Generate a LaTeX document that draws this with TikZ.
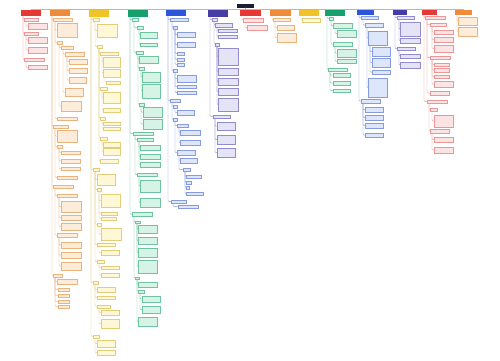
\documentclass[tikz,border=0pt]{standalone}
\usepackage{tikz}
\usetikzlibrary{calc}
\definecolor{red1}{RGB}{229, 57, 53}
\definecolor{red2}{RGB}{253, 228, 228}
\definecolor{red3}{RGB}{238, 150, 150}
\definecolor{orange1}{RGB}{239, 140, 60}
\definecolor{orange2}{RGB}{254, 236, 218}
\definecolor{orange3}{RGB}{236, 180, 125}
\definecolor{yellow1}{RGB}{240, 196, 40}
\definecolor{yellow2}{RGB}{255, 248, 214}
\definecolor{yellow3}{RGB}{228, 205, 120}
\definecolor{green1}{RGB}{22, 160, 110}
\definecolor{green2}{RGB}{214, 244, 230}
\definecolor{green3}{RGB}{110, 195, 160}
\definecolor{blue1}{RGB}{45, 85, 220}
\definecolor{blue2}{RGB}{222, 230, 252}
\definecolor{blue3}{RGB}{135, 155, 225}
\definecolor{violet1}{RGB}{70, 60, 165}
\definecolor{violet2}{RGB}{228, 228, 246}
\definecolor{violet3}{RGB}{145, 140, 205}
\definecolor{navy1}{RGB}{25, 30, 55}
\definecolor{tan1}{RGB}{205, 180, 140}

\begin{document}
\begin{tikzpicture}[x=1pt, y=-1pt, line width=.45pt,
  box/.style={rectangle, anchor=north west, inner sep=0pt, line width=.25pt},
  sz/.style 2 args={minimum width=#1, minimum height=#2},
  rhead/.style={box, fill=red1}, ohead/.style={box, fill=orange1},
  yhead/.style={box, fill=yellow1}, ghead/.style={box, fill=green1},
  bhead/.style={box, fill=blue1}, vhead/.style={box, fill=violet1},
  rbox/.style={box, fill=red2, draw=red3}, obox/.style={box, fill=orange2, draw=orange3},
  ybox/.style={box, fill=yellow2, draw=yellow3}, gbox/.style={box, fill=green2, draw=green3},
  bbox/.style={box, fill=blue2, draw=blue3}, vbox/.style={box, fill=violet2, draw=violet3},
  rline/.style={draw=red3, rounded corners=1pt}, oline/.style={draw=orange3, rounded corners=1pt},
  yline/.style={draw=yellow3, rounded corners=1pt}, gline/.style={draw=green3, rounded corners=1pt},
  bline/.style={draw=blue3, rounded corners=1pt}, vline/.style={draw=violet3, rounded corners=1pt}]
  \fill[white] (0,0) rectangle (500,360);
  \useasboundingbox (0,0) rectangle (500,360);

  \node[box, fill=navy1, sz={17}{4}] (root) at (237,3.5) {};

  % headers
  \node[rhead, sz={20}{6}] (h1) at (21,10) {};
  \node[ohead, sz={20}{6}] (h2) at (50,10) {};
  \node[yhead, sz={20}{7}] (h3) at (89,10) {};
  \node[ghead, sz={20}{7}] (h4) at (128,10) {};
  \node[bhead, sz={20}{6}] (h5) at (166,10) {};
  \node[vhead, sz={20}{7}] (h6) at (208,10) {};
  \node[rhead, sz={21}{6}] (h7) at (240,10) {};
  \node[ohead, sz={21}{6}] (h8) at (270,10) {};
  \node[yhead, sz={20}{6}] (h9) at (299,10) {};
  \node[ghead, sz={20}{6}] (h10) at (325,10) {};
  \node[bhead, sz={17}{5}] (h11) at (357,10) {};
  \node[vhead, sz={14}{5}] (h12) at (393,10) {};
  \node[rhead, sz={15}{5}] (h13) at (422,10) {};
  \node[ohead, sz={17}{5}] (h14) at (455,10) {};

  \foreach \h in {h1,h2,h3,h4,h5,h6,h7,h8,h9,h10,h11,h12,h13,h14}
    \draw[tan1] (root.south) -- ++(0,1.5) -| (\h.north);

  % column 1
  \node[rbox, sz={14}{3}] (n1a) at (24,18) {};
  \node[rbox, sz={19}{6}] (n1a1) at (28,23) {};
  \node[rbox, sz={14}{3}] (n1b) at (24,32) {};
  \node[rbox, sz={19}{6}] (n1b1) at (28,37) {};
  \node[rbox, sz={19}{6}] (n1b2) at (28,47) {};
  \node[rbox, sz={20}{3}] (n1c) at (24,58) {};
  \node[rbox, sz={19}{4}] (n1c1) at (28,65) {};

  % column 2
  \node[obox, sz={19}{3}] (n2a) at (53,18) {};
  \node[obox, sz={20}{14}] (n2a1) at (57,23) {};
  \node[obox, sz={5}{2.5}] (n2a2) at (57,41) {};
  \node[obox, sz={12}{2.5}] (n2b) at (61,46) {};
  \node[obox, sz={19}{4}] (n2b1) at (65,52) {};
  \node[obox, sz={18}{5}] (n2b1a) at (69,59) {};
  \node[obox, sz={18}{5}] (n2b1b) at (69,68) {};
  \node[obox, sz={17}{6}] (n2b1c) at (69,77) {};
  \node[obox, sz={18}{8}] (n2b2) at (65,88) {};
  \node[obox, sz={20}{10}] (n2c) at (61,101) {};
  \node[obox, sz={20}{3}] (n2a3) at (57,117) {};
  \node[obox, sz={15}{2.5}] (n2d) at (53,125) {};
  \node[obox, sz={20}{12}] (n2d1) at (57,130) {};
  \node[obox, sz={5}{2.5}] (n2d2) at (57,145) {};
  \node[obox, sz={19}{2.5}] (n2d2a) at (61,151) {};
  \node[obox, sz={19}{4}] (n2d2b) at (61,159) {};
  \node[obox, sz={19}{3}] (n2d2c) at (61,167) {};
  \node[obox, sz={20}{3}] (n2d3) at (57,176) {};
  \node[obox, sz={20}{3}] (n2e) at (53,185) {};
  \node[obox, sz={20}{3}] (n2e1) at (57,194) {};
  \node[obox, sz={20}{11}] (n2e1a) at (61,201) {};
  \node[obox, sz={20}{5}] (n2e1b) at (61,215) {};
  \node[obox, sz={20}{7}] (n2e1c) at (61,223) {};
  \node[obox, sz={20}{4}] (n2e2) at (57,233) {};
  \node[obox, sz={20}{6}] (n2e2a) at (61,242) {};
  \node[obox, sz={20}{6}] (n2e2b) at (61,252) {};
  \node[obox, sz={20}{8}] (n2e2c) at (61,262) {};
  \node[obox, sz={9}{3}] (n2f) at (53,274) {};
  \node[obox, sz={20}{5}] (n2f1) at (57,279) {};
  \node[obox, sz={11}{3}] (n2f2) at (58,288) {};
  \node[obox, sz={11}{3}] (n2f3) at (58,294) {};
  \node[obox, sz={11}{2.5}] (n2f4) at (58,300) {};
  \node[obox, sz={11}{2.5}] (n2f5) at (58,305) {};

  % column 3
  \node[ybox, sz={6}{3}] (n3a) at (93,18) {};
  \node[ybox, sz={20}{13}] (n3a1) at (97,24) {};
  \node[ybox, sz={5}{2.5}] (n3a2) at (97,45) {};
  \node[ybox, sz={18}{2.5}] (n3b) at (100,52) {};
  \node[ybox, sz={17}{10}] (n3b1) at (103,57) {};
  \node[ybox, sz={17}{8}] (n3b2) at (103,69) {};
  \node[ybox, sz={14}{2.5}] (n3b3) at (106,81) {};
  \node[ybox, sz={7}{2.5}] (n3c) at (100,87) {};
  \node[ybox, sz={17}{11}] (n3c1) at (103,92) {};
  \node[ybox, sz={17}{4}] (n3c2) at (103,108) {};
  \node[ybox, sz={5}{2.5}] (n3d) at (100,117) {};
  \node[ybox, sz={17}{3}] (n3d1) at (103,122) {};
  \node[ybox, sz={17}{3}] (n3d2) at (103,127) {};
  \node[ybox, sz={7}{2.5}] (n3e) at (100,137) {};
  \node[ybox, sz={17}{5}] (n3e1) at (103,142) {};
  \node[ybox, sz={17}{7}] (n3e2) at (103,148) {};
  \node[ybox, sz={18}{4}] (n3f) at (100,159) {};
  \node[ybox, sz={6}{3}] (n3g) at (93,168) {};
  \node[ybox, sz={18}{11}] (n3g1) at (97,174) {};
  \node[ybox, sz={4}{2.5}] (n3g2) at (97,188) {};
  \node[ybox, sz={19}{13}] (n3g2a) at (101,194) {};
  \node[ybox, sz={16}{2.5}] (n3g2b) at (101,212) {};
  \node[ybox, sz={15}{2.5}] (n3g2c) at (101,217) {};
  \node[ybox, sz={4}{2.5}] (n3g3) at (97,223) {};
  \node[ybox, sz={20}{12}] (n3g3a) at (101,228) {};
  \node[ybox, sz={18}{3}] (n3g4) at (97,243) {};
  \node[ybox, sz={18}{5}] (n3g4a) at (101,250) {};
  \node[ybox, sz={7}{3}] (n3g5) at (97,260) {};
  \node[ybox, sz={18}{3}] (n3g5a) at (101,266) {};
  \node[ybox, sz={18}{4}] (n3g5b) at (101,273) {};
  \node[ybox, sz={5}{2.5}] (n3h) at (93,281) {};
  \node[ybox, sz={18}{5}] (n3h1) at (97,287) {};
  \node[ybox, sz={18}{3}] (n3h2) at (97,296) {};
  \node[ybox, sz={13}{2.5}] (n3h3) at (97,305) {};
  \node[ybox, sz={18}{5}] (n3h3a) at (101,310) {};
  \node[ybox, sz={18}{9}] (n3h3b) at (101,319) {};
  \node[ybox, sz={6}{2.5}] (n3i) at (93,335) {};
  \node[ybox, sz={18}{7}] (n3i1) at (97,340) {};
  \node[ybox, sz={18}{5}] (n3i2) at (97,350) {};

  % column 4
  \node[gbox, sz={6}{3}] (n4a) at (132,18) {};
  \node[gbox, sz={6}{2.5}] (n4a1) at (137,26) {};
  \node[gbox, sz={17}{6}] (n4a1a) at (140,32) {};
  \node[gbox, sz={17}{3}] (n4a1b) at (140,43) {};
  \node[gbox, sz={7}{2.5}] (n4a2) at (136,51) {};
  \node[gbox, sz={19}{7}] (n4a2a) at (139,56) {};
  \node[gbox, sz={5}{2.5}] (n4a2b) at (139,67) {};
  \node[gbox, sz={18}{10}] (n4a2b1) at (142,72) {};
  \node[gbox, sz={18}{14}] (n4a2b2) at (142,84) {};
  \node[gbox, sz={5}{2.5}] (n4a2c) at (139,103) {};
  \node[gbox, sz={19}{10}] (n4a2c1) at (143,107) {};
  \node[gbox, sz={19}{10}] (n4a2c2) at (143,119) {};
  \node[gbox, sz={20}{3}] (n4b) at (133,132) {};
  \node[gbox, sz={16}{3}] (n4b1) at (137,138) {};
  \node[gbox, sz={20}{5}] (n4b1a) at (140,145) {};
  \node[gbox, sz={20}{5}] (n4b1b) at (140,154) {};
  \node[gbox, sz={20}{5}] (n4b1c) at (140,162) {};
  \node[gbox, sz={20}{3}] (n4b2) at (137,173) {};
  \node[gbox, sz={20}{12}] (n4b2a) at (140,180) {};
  \node[gbox, sz={20}{9}] (n4b2b) at (140,198) {};
  \node[gbox, sz={20}{4}] (n4c) at (132,212) {};
  \node[gbox, sz={5}{2}] (n4c1) at (135,221) {};
  \node[gbox, sz={19}{8}] (n4c1a) at (138,225) {};
  \node[gbox, sz={19}{7}] (n4c1b) at (138,237) {};
  \node[gbox, sz={19}{9}] (n4c1c) at (138,248) {};
  \node[gbox, sz={19}{13}] (n4c1d) at (138,260) {};
  \node[gbox, sz={4}{2}] (n4c2) at (135,277) {};
  \node[gbox, sz={19}{5}] (n4c2a) at (138,282) {};
  \node[gbox, sz={6}{2.5}] (n4c2b) at (138,290) {};
  \node[gbox, sz={18}{6}] (n4c2b1) at (142,296) {};
  \node[gbox, sz={18}{7}] (n4c2b2) at (142,306) {};
  \node[gbox, sz={19}{9}] (n4c2c) at (138,317) {};

  % column 5
  \node[bbox, sz={18}{3}] (n5a) at (170,18) {};
  \node[bbox, sz={4}{2.5}] (n5a1) at (173,26) {};
  \node[bbox, sz={18}{5}] (n5a1a) at (177,32) {};
  \node[bbox, sz={18}{5}] (n5a1b) at (177,42) {};
  \node[bbox, sz={7}{2.5}] (n5a1c) at (177,52) {};
  \node[bbox, sz={7}{2.5}] (n5a1d) at (177,58) {};
  \node[bbox, sz={7}{2.5}] (n5a1e) at (177,63) {};
  \node[bbox, sz={4}{3}] (n5a2) at (173,69) {};
  \node[bbox, sz={19}{7}] (n5a2a) at (177,75) {};
  \node[bbox, sz={19}{3}] (n5a2b) at (177,85) {};
  \node[bbox, sz={19}{3}] (n5a2c) at (177,91) {};
  \node[bbox, sz={10}{3}] (n5b) at (170,99) {};
  \node[bbox, sz={4}{2.5}] (n5b1) at (173,105) {};
  \node[bbox, sz={17}{5}] (n5b1a) at (177,110) {};
  \node[bbox, sz={4}{3}] (n5b2) at (173,118) {};
  \node[bbox, sz={11}{3}] (n5b2a) at (177,124) {};
  \node[bbox, sz={20}{5}] (n5b2a1) at (180,130) {};
  \node[bbox, sz={20}{5}] (n5b2a2) at (180,140) {};
  \node[bbox, sz={18}{5}] (n5b2b) at (177,150) {};
  \node[bbox, sz={17}{5}] (n5b2b1) at (180,158) {};
  \node[bbox, sz={7}{3}] (n5b2b2) at (183,168) {};
  \node[bbox, sz={15}{2.5}] (n5c1) at (186,175) {};
  \node[bbox, sz={5}{2.5}] (n5c2) at (186,181) {};
  \node[bbox, sz={3}{2.5}] (n5c3) at (186,186) {};
  \node[bbox, sz={17}{3}] (n5c4) at (186,192) {};
  \node[bbox, sz={15}{3}] (n5d) at (171,200) {};
  \node[bbox, sz={20}{3}] (n5d1) at (178,205) {};

  % column 6
  \node[vbox, sz={5}{3}] (n6a) at (212,18) {};
  \node[vbox, sz={17}{4}] (n6a1) at (215,23) {};
  \node[vbox, sz={19}{3}] (n6a1a) at (218,29) {};
  \node[vbox, sz={19}{3}] (n6a1b) at (218,35) {};
  \node[vbox, sz={4}{2.5}] (n6a2) at (215,43) {};
  \node[vbox, sz={20}{17}] (n6a2a) at (218,48) {};
  \node[vbox, sz={20}{7}] (n6a2b) at (218,68) {};
  \node[vbox, sz={20}{7}] (n6a2c) at (218,78) {};
  \node[vbox, sz={20}{7}] (n6a2d) at (218,88) {};
  \node[vbox, sz={20}{13}] (n6a2e) at (218,98) {};
  \node[vbox, sz={17}{2.5}] (n6b) at (213,115) {};
  \node[vbox, sz={18}{8}] (n6b1) at (217,122) {};
  \node[vbox, sz={18}{9}] (n6b2) at (217,135) {};
  \node[vbox, sz={18}{9}] (n6b3) at (217,148) {};

  % columns 7 to 9
  \node[rbox, sz={20}{4}] (n7a) at (243,18) {};
  \node[rbox, sz={20}{5}] (n7a1) at (247,25) {};
  \node[obox, sz={17}{3}] (n8a) at (273,18) {};
  \node[obox, sz={17}{5}] (n8a1) at (277,25) {};
  \node[obox, sz={19}{9}] (n8a2) at (277,33) {};
  \node[ybox, sz={18}{4}] (n9a) at (302,18) {};

  % column 10
  \node[gbox, sz={4}{2.5}] (n10a) at (329,17) {};
  \node[gbox, sz={19}{5}] (n10b) at (333,23) {};
  \node[gbox, sz={19}{7}] (n10b1) at (337,30) {};
  \node[gbox, sz={19}{4}] (n10c) at (333,42) {};
  \node[gbox, sz={19}{8}] (n10c1) at (337,49) {};
  \node[gbox, sz={19}{4}] (n10c2) at (337,59) {};
  \node[gbox, sz={19}{3}] (n10d) at (328,68) {};
  \node[gbox, sz={17}{4}] (n10d1) at (333,73) {};
  \node[gbox, sz={17}{4}] (n10d2) at (333,81) {};
  \node[gbox, sz={17}{3}] (n10d3) at (333,89) {};

  % column 11
  \node[bbox, sz={17}{3}] (n11a) at (361,16) {};
  \node[bbox, sz={18}{4}] (n11b) at (365,23) {};
  \node[bbox, sz={19}{14}] (n11c) at (368,31) {};
  \node[bbox, sz={18}{9}] (n11c1) at (372,47) {};
  \node[bbox, sz={18}{9}] (n11c2) at (372,58) {};
  \node[bbox, sz={18}{4}] (n11c3) at (372,70) {};
  \node[bbox, sz={19}{19}] (n11d) at (368,78) {};
  \node[bbox, sz={19}{4}] (n11e) at (361,99) {};
  \node[bbox, sz={18}{5}] (n11e1) at (365,107) {};
  \node[bbox, sz={18}{5}] (n11e2) at (365,115) {};
  \node[bbox, sz={18}{5}] (n11e3) at (365,123) {};
  \node[bbox, sz={18}{4}] (n11e4) at (365,133) {};

  % column 12
  \node[vbox, sz={17}{3}] (n12a) at (397,16) {};
  \node[vbox, sz={20}{14}] (n12a1) at (400,22) {};
  \node[vbox, sz={20}{5}] (n12a2) at (400,38) {};
  \node[vbox, sz={18}{3}] (n12b) at (397,47) {};
  \node[vbox, sz={20}{4}] (n12b1) at (400,54) {};
  \node[vbox, sz={20}{6}] (n12b2) at (400,62) {};

  % column 13
  \node[rbox, sz={20}{3}] (n13a) at (425,16) {};
  \node[rbox, sz={16}{3}] (n13b) at (430,23) {};
  \node[rbox, sz={19}{4}] (n13b1) at (434,30) {};
  \node[rbox, sz={19}{5}] (n13b2) at (434,37) {};
  \node[rbox, sz={19}{7}] (n13b3) at (434,45) {};
  \node[rbox, sz={20}{3}] (n13c) at (430,56) {};
  \node[rbox, sz={15}{2.5}] (n13c1) at (434,63) {};
  \node[rbox, sz={15}{4}] (n13c2) at (434,68) {};
  \node[rbox, sz={15}{2.5}] (n13c3) at (434,75) {};
  \node[rbox, sz={19}{6}] (n13c4) at (434,81) {};
  \node[rbox, sz={19}{4}] (n13d) at (430,91) {};
  \node[rbox, sz={20}{3}] (n13e) at (427,100) {};
  \node[rbox, sz={7}{3}] (n13f) at (430,108) {};
  \node[rbox, sz={19}{12}] (n13f1) at (434,115) {};
  \node[rbox, sz={19}{4}] (n13g) at (430,129) {};
  \node[rbox, sz={19}{5}] (n13g1) at (434,137) {};
  \node[rbox, sz={19}{6}] (n13g2) at (434,147) {};

  % column 14
  \node[obox, sz={19}{8}] (n14a) at (458,17) {};
  \node[obox, sz={19}{9}] (n14b) at (458,27) {};

  \foreach \from/\to in {h1/n1a, h1/n1b, h1/n1c, n1a/n1a1, n1b/n1b1, n1b/n1b2, n1c/n1c1,
      h7/n7a, n7a/n7a1, h13/n13a, h13/n13e, n13a/n13b, n13a/n13c, n13a/n13d,
      n13b/n13b1, n13b/n13b2, n13b/n13b3, n13c/n13c1, n13c/n13c2, n13c/n13c3, n13c/n13c4,
      n13e/n13f, n13e/n13g, n13f/n13f1, n13g/n13g1, n13g/n13g2}
    \draw[rline] ([xshift=2pt]\from.south west) |- (\to.west);
  \foreach \from/\to in {h2/n2a, h2/n2d, h2/n2e, h2/n2f, n2a/n2a1, n2a/n2a2, n2a/n2a3,
      n2a2/n2b, n2a2/n2c, n2b/n2b1, n2b/n2b2, n2b1/n2b1a, n2b1/n2b1b, n2b1/n2b1c,
      n2d/n2d1, n2d/n2d2, n2d/n2d3, n2d2/n2d2a, n2d2/n2d2b, n2d2/n2d2c,
      n2e/n2e1, n2e/n2e2, n2e1/n2e1a, n2e1/n2e1b, n2e1/n2e1c, n2e2/n2e2a, n2e2/n2e2b, n2e2/n2e2c,
      n2f/n2f1, n2f/n2f2, n2f/n2f3, n2f/n2f4, n2f/n2f5,
      h8/n8a, n8a/n8a1, n8a/n8a2, h14/n14a, h14/n14b}
    \draw[oline] ([xshift=2pt]\from.south west) |- (\to.west);
  \foreach \from/\to in {h3/n3a, h3/n3g, h3/n3h, h3/n3i, n3a/n3a1, n3a/n3a2,
      n3a2/n3b, n3a2/n3c, n3a2/n3d, n3a2/n3e, n3a2/n3f, n3b/n3b1, n3b/n3b2, n3b2/n3b3,
      n3c/n3c1, n3c/n3c2, n3d/n3d1, n3d/n3d2, n3e/n3e1, n3e/n3e2,
      n3g/n3g1, n3g/n3g2, n3g/n3g3, n3g/n3g4, n3g/n3g5, n3g2/n3g2a, n3g2/n3g2b, n3g2/n3g2c,
      n3g3/n3g3a, n3g4/n3g4a, n3g5/n3g5a, n3g5/n3g5b,
      n3h/n3h1, n3h/n3h2, n3h/n3h3, n3h3/n3h3a, n3h3/n3h3b, n3i/n3i1, n3i/n3i2, h9/n9a}
    \draw[yline] ([xshift=2pt]\from.south west) |- (\to.west);
  \foreach \from/\to in {h4/n4a, h4/n4b, h4/n4c, n4a/n4a1, n4a/n4a2, n4a1/n4a1a, n4a1/n4a1b,
      n4a2/n4a2a, n4a2/n4a2b, n4a2/n4a2c, n4a2b/n4a2b1, n4a2b/n4a2b2, n4a2c/n4a2c1, n4a2c/n4a2c2,
      n4b/n4b1, n4b/n4b2, n4b1/n4b1a, n4b1/n4b1b, n4b1/n4b1c, n4b2/n4b2a, n4b2/n4b2b,
      n4c/n4c1, n4c/n4c2, n4c1/n4c1a, n4c1/n4c1b, n4c1/n4c1c, n4c1/n4c1d,
      n4c2/n4c2a, n4c2/n4c2b, n4c2/n4c2c, n4c2b/n4c2b1, n4c2b/n4c2b2,
      h10/n10a, h10/n10d, n10a/n10b, n10a/n10c, n10b/n10b1, n10c/n10c1, n10c/n10c2,
      n10d/n10d1, n10d/n10d2, n10d/n10d3}
    \draw[gline] ([xshift=2pt]\from.south west) |- (\to.west);
  \foreach \from/\to in {h5/n5a, h5/n5b, h5/n5d, n5a/n5a1, n5a/n5a2,
      n5a1/n5a1a, n5a1/n5a1b, n5a1/n5a1c, n5a1/n5a1d, n5a1/n5a1e, n5a2/n5a2a, n5a2/n5a2b, n5a2/n5a2c,
      n5b/n5b1, n5b/n5b2, n5b1/n5b1a, n5b2/n5b2a, n5b2/n5b2b, n5b2a/n5b2a1, n5b2a/n5b2a2,
      n5b2b/n5b2b1, n5b2b/n5b2b2, n5b2b2/n5c1, n5b2b2/n5c2, n5b2b2/n5c3, n5b2b2/n5c4, n5d/n5d1,
      h11/n11a, h11/n11e, n11a/n11b, n11b/n11c, n11b/n11d, n11c/n11c1, n11c/n11c2, n11c/n11c3,
      n11e/n11e1, n11e/n11e2, n11e/n11e3, n11e/n11e4}
    \draw[bline] ([xshift=2pt]\from.south west) |- (\to.west);
  \foreach \from/\to in {h6/n6a, h6/n6b, n6a/n6a1, n6a/n6a2, n6a1/n6a1a, n6a1/n6a1b,
      n6a2/n6a2a, n6a2/n6a2b, n6a2/n6a2c, n6a2/n6a2d, n6a2/n6a2e, n6b/n6b1, n6b/n6b2, n6b/n6b3,
      h12/n12a, h12/n12b, n12a/n12a1, n12a/n12a2, n12b/n12b1, n12b/n12b2}
    \draw[vline] ([xshift=2pt]\from.south west) |- (\to.west);
\end{tikzpicture}
\end{document}
